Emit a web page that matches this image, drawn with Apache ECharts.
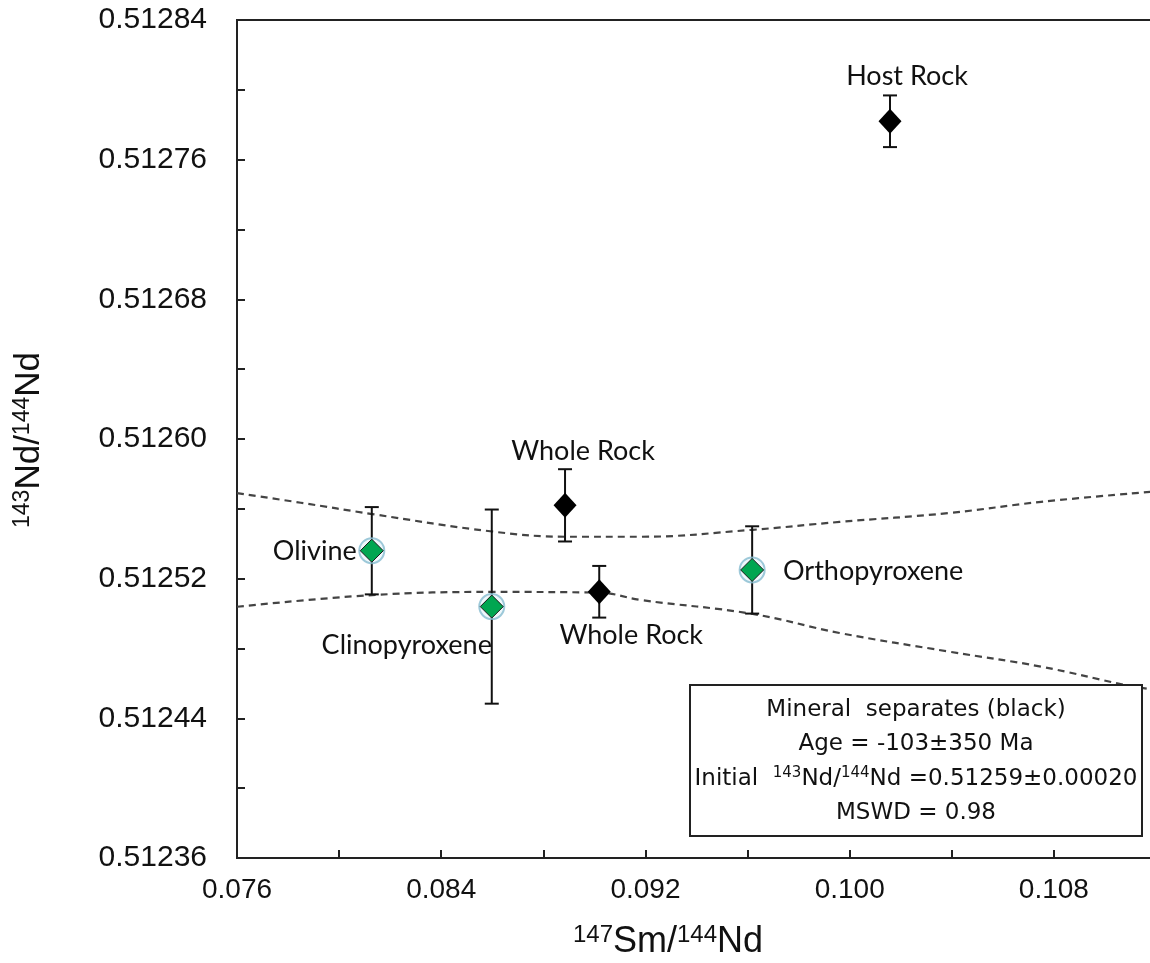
<!DOCTYPE html>
<html>
<head>
<meta charset="utf-8">
<script src="https://cdn.jsdelivr.net/npm/echarts@6/dist/echarts.min.js"></script>
<style>
html,body{margin:0;padding:0;background:#fff;}
#chart{width:1150px;height:963px;}
</style>
</head>
<body>
<div id="chart"></div>
<script>
// ---- data ----
const sampleNames = ['Olivine', 'Clinopyroxene', 'Whole Rock', 'Whole Rock', 'Orthopyroxene', 'Host Rock'];
const smNd = [0.08128, 0.08598, 0.08885, 0.09019, 0.09618, 0.10158];
const ndNd = [0.512536, 0.512504, 0.512562, 0.5125125, 0.512525, 0.512782];
const ndErr = [0.000025, 0.0000556, 0.0000207, 0.0000148, 0.000025, 0.0000148];
const sampleGroup = ['mineral', 'mineral', 'rock', 'rock', 'mineral', 'rock'];

const upperX = [0.0760, 0.0785, 0.0813, 0.0860, 0.0889, 0.0918, 0.0962, 0.0996, 0.1039, 0.1075, 0.1120];
const upperY = [0.512569, 0.5125635, 0.512557, 0.512547, 0.512544, 0.512544, 0.512548, 0.5125525, 0.5125576, 0.512564, 0.51257];
const lowerX = [0.0760, 0.0813, 0.0860, 0.0902, 0.0918, 0.0962, 0.0996, 0.1039, 0.1075, 0.1108, 0.1120];
const lowerY = [0.5125039, 0.5125106, 0.5125124, 0.512512, 0.5125078, 0.5124998, 0.5124889, 0.5124782, 0.5124696, 0.5124591, 0.5124562];

const xMin = 0.076, xMax = 0.112, xStep = 0.004;
const yMin = 0.51236, yMax = 0.51284, yStep = 0.00004;

const boxLines = ['Mineral  separates (black)', 'Age = -103±350 Ma', 'Initial  {sup|143}Nd/{sup|144}Nd =0.51259±0.00020', 'MSWD = 0.98'];

// ---- layout (label offsets relative to the marker) ----
const labelOffsets = [[-57, 1], [-85, 39], [18, -54], [32, 44], [121, 1], [17, -45]];

const chart = echarts.init(document.getElementById('chart'));

function pts(xs, ys) { return xs.map((x, i) => [x, ys[i]]); }

const greenData = [], blackData = [], haloData = [], errData = [];
smNd.forEach((x, i) => {
  const item = {
    value: [x, ndNd[i]],
    name: sampleNames[i],
    label: { offset: labelOffsets[i] }
  };
  if (sampleGroup[i] === 'mineral') { greenData.push(item); haloData.push([x, ndNd[i]]); }
  else blackData.push(item);
  errData.push([x, ndNd[i], ndErr[i]]);
});

const labelStyle = {
  show: true,
  position: 'inside',
  formatter: '{b}',
  fontFamily: 'Lato',
  fontSize: 27,
  color: '#111'
};

const axisLineStyle = { lineStyle: { color: '#222', width: 2 } };

chart.setOption({
  animation: false,
  backgroundColor: '#fff',
  grid: {
    left: 237, top: 20, right: -6, bottom: 105,
    outerBoundsMode: 'none', containLabel: false,
    show: true, borderColor: '#222', borderWidth: 2
  },
  xAxis: {
    type: 'value', min: xMin, max: xMax, interval: xStep,
    axisLine: Object.assign({ show: true }, axisLineStyle),
    axisTick: { show: true, inside: true, length: 8, lineStyle: { color: '#222', width: 2 } },
    splitLine: { show: false },
    axisLabel: {
      margin: 18, fontFamily: 'Liberation Sans, Arial', fontSize: 28, color: '#111',
      formatter: v => (Math.round(v / xStep) % 2 === 1 ? v.toFixed(3) : '')
    }
  },
  yAxis: {
    type: 'value', min: yMin, max: yMax, interval: yStep,
    axisLine: Object.assign({ show: true }, axisLineStyle),
    axisTick: { show: true, inside: true, length: 8, lineStyle: { color: '#222', width: 2 } },
    splitLine: { show: false },
    axisLabel: {
      margin: 30, fontFamily: 'Liberation Sans, Arial', fontSize: 30, color: '#111',
      formatter: v => (Math.round(v / yStep) % 2 === 1 ? v.toFixed(5) : '')
    }
  },
  series: [
    {
      type: 'line', data: pts(upperX, upperY), smooth: 0.4, showSymbol: false, silent: true, z: 1,
      lineStyle: { color: '#444', width: 2.2, type: [7, 5] }
    },
    {
      type: 'line', data: pts(lowerX, lowerY), smooth: 0.4, showSymbol: false, silent: true, z: 1,
      lineStyle: { color: '#444', width: 2.2, type: [7, 5] }
    },
    {
      type: 'custom', data: errData, z: 2,
      renderItem: function (params, api) {
        const x = api.value(0), y = api.value(1), e = api.value(2);
        const t = api.coord([x, y + e]);
        const b = api.coord([x, y - e]);
        const hw = 7;
        const st = { stroke: '#111', lineWidth: 2 };
        return {
          type: 'group', children: [
            { type: 'line', shape: { x1: t[0], y1: t[1], x2: b[0], y2: b[1] }, style: st },
            { type: 'line', shape: { x1: t[0] - hw, y1: t[1], x2: t[0] + hw, y2: t[1] }, style: st },
            { type: 'line', shape: { x1: b[0] - hw, y1: b[1], x2: b[0] + hw, y2: b[1] }, style: st }
          ]
        };
      }
    },
    {
      type: 'scatter', data: haloData, symbol: 'circle', symbolSize: 25, z: 3, silent: true,
      itemStyle: { color: 'rgba(225,240,248,0.7)', borderColor: '#86bcd0', borderWidth: 2 }
    },
    {
      type: 'scatter', data: greenData, symbol: 'diamond', symbolSize: [23, 23], z: 4,
      itemStyle: { color: '#00a651', borderColor: '#1a1a1a', borderWidth: 1, opacity: 1 },
      label: labelStyle
    },
    {
      type: 'scatter', data: blackData, symbol: 'diamond', symbolSize: [23, 25], z: 4,
      itemStyle: { color: '#000', borderColor: '#000', borderWidth: 0, opacity: 1 },
      label: labelStyle
    }
  ],
  graphic: [
    {
      type: 'text', x: 29, y: 440, rotation: Math.PI / 2, z: 10,
      style: {
        text: '{sup|143}{big|Nd/}{sup|144}{big|Nd}',
        align: 'center', verticalAlign: 'middle',
        rich: {
          sup: { fontFamily: 'Liberation Sans, Arial', fontSize: 23, fill: '#111', verticalAlign: 'top', lineHeight: 36 },
          big: { fontFamily: 'Liberation Sans, Arial', fontSize: 35, fill: '#111', lineHeight: 36 }
        }
      }
    },
    {
      type: 'text', x: 668, y: 942, z: 10,
      style: {
        text: '{sup|147}{big|Sm/}{sup|144}{big|Nd}',
        align: 'center', verticalAlign: 'middle',
        rich: {
          sup: { fontFamily: 'Liberation Sans, Arial', fontSize: 24, fill: '#111', verticalAlign: 'top', lineHeight: 38 },
          big: { fontFamily: 'Liberation Sans, Arial', fontSize: 36, fill: '#111', lineHeight: 38 }
        }
      }
    },
    {
      type: 'rect', z: 20,
      shape: { x: 690, y: 685, width: 452, height: 151 },
      style: { fill: '#fff', stroke: '#222', lineWidth: 2 }
    },
    ...boxLines.map((t, i) => ({
      type: 'text', z: 21, x: 916, y: 710 + i * 34.5,
      style: {
        text: t, align: 'center', verticalAlign: 'middle',
        fontFamily: 'DejaVu Sans', fontSize: 23, fill: '#111',
        rich: {
          sup: { fontFamily: 'DejaVu Sans', fontSize: 15, fill: '#111', verticalAlign: 'top', lineHeight: 26 }
        }
      }
    }))
  ]
});
</script>
</body>
</html>
